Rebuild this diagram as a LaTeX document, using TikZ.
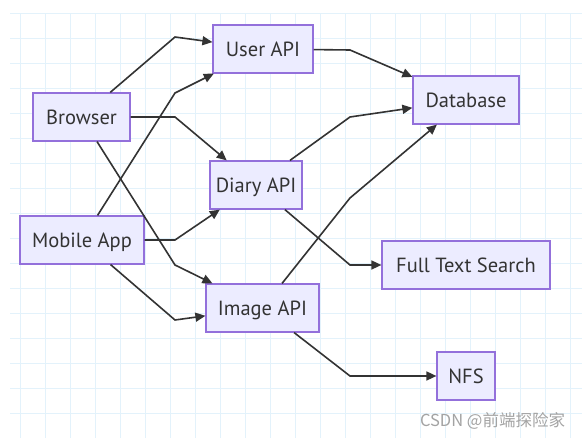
\documentclass[tikz,border=0pt]{standalone}
\usepackage{fontspec}
\setmainfont{PT Sans}
\newfontfamily\cjkfont{Noto Sans CJK SC}
\usetikzlibrary{arrows.meta}
\definecolor{boxfill}{HTML}{ECECFF}
\definecolor{boxline}{HTML}{9370DB}
\definecolor{edgecol}{HTML}{333333}
\definecolor{gridcol}{HTML}{E3F2FB}
\definecolor{markcol}{HTML}{A3A3A3}
\tikzset{
  svc/.style={draw=boxline, fill=boxfill, line width=1.2pt, minimum height=48pt,
    inner sep=0pt, text height=16pt, text depth=1.4pt, text=edgecol,
    font=\fontsize{20.5}{23}\selectfont},
  flow/.style={draw=edgecol, line width=1.6pt,
    -{Triangle[length=10pt,width=9pt]}}
}
\begin{document}
\begin{tikzpicture}[x=1pt,y=-1pt]
\useasboundingbox (0,0) rectangle (582,438);
\fill[white] (0,0) rectangle (582,438);
% grid
\begin{scope}[gridcol, line width=0.9pt]
\foreach \gx in {20.7,45.7,...,582} \draw (\gx,13.3) -- (\gx,438);
\foreach \gy in {13.3,38.3,...,438} \draw (10,\gy) -- (582,\gy);
\end{scope}
% nodes
\node[svc, minimum width=100pt] (user) at (263,49) {User API};
\node[svc, minimum width=97pt] (browser) at (81.5,117) {Browser};
\node[svc, minimum width=92pt] (diary) at (256,185) {Diary API};
\node[svc, minimum width=106pt] (db) at (466,100) {Database};
\node[svc, minimum width=124pt] (mobile) at (82,240) {Mobile App};
\node[svc, minimum width=113pt] (image) at (262.5,308) {Image API};
\node[svc, minimum width=168pt] (fts) at (466,265) {Full Text Search};
\node[svc, minimum width=58pt] (nfs) at (466,376) {NFS};
% edges
\draw[flow] (browser) -- (175,37) -- (user);
\draw[flow] (mobile) -- (175,93) -- (user);
\draw[flow] (browser) -- (175,117) -- (diary);
\draw[flow] (browser) -- (175,265) -- (image);
\draw[flow] (mobile) -- (175,240) -- (diary);
\draw[flow] (mobile) -- (175,320) -- (image);
\draw[flow] (user) -- (350,50) -- (db);
\draw[flow] (diary) -- (350,117) -- (db);
\draw[flow] (image) -- (350,198) -- (db);
\draw[flow] (diary) -- (350,265) -- (fts);
\draw[flow] (image) -- (350,376) -- (nfs);
% watermark
\node[text=markcol, font=\cjkfont\fontsize{16.5}{18}\selectfont, inner sep=0pt] (mark) at (492.5,420.5) {CSDN @前端探险家};
\end{tikzpicture}
\end{document}
